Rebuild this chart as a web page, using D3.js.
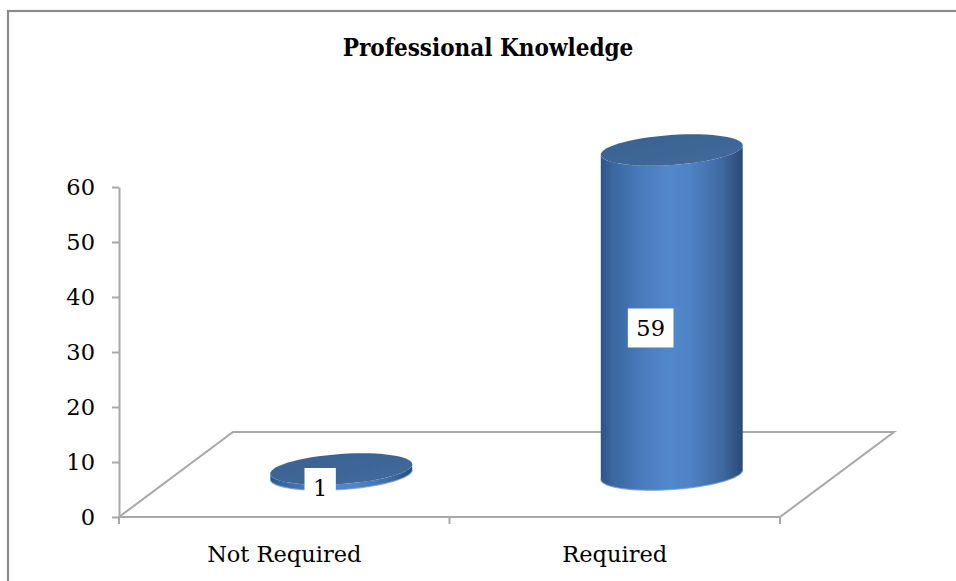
<!DOCTYPE html>
<html>
<head>
<meta charset="utf-8">
<script src="https://cdn.jsdelivr.net/npm/d3@7"></script>
<style>
  html, body { margin: 0; padding: 0; background: #fff; }
  svg { display: block; }
  text { font-family: "DejaVu Serif", "Liberation Serif", serif; fill: #000; }
</style>
</head>
<body>
<svg id="chart" width="956" height="581"></svg>
<script>
// Survey result: is professional knowledge required?
const title = "Professional Knowledge";
const categories = ["Not Required", "Required"];
const values = [1, 59];
const yTicks = [0, 10, 20, 30, 40, 50, 60];

const svg = d3.select("#chart");
const W = 956, H = 581;

// outer chart frame
svg.append("rect")
  .attr("x", 8).attr("y", 11)
  .attr("width", W + 10).attr("height", H + 10)
  .attr("fill", "none").attr("stroke", "#8a8a8a").attr("stroke-width", 2.2);

svg.append("text")
  .attr("x", 488).attr("y", 56)
  .attr("text-anchor", "middle")
  .attr("font-size", 24).attr("font-weight", "bold")
  .style("font-stretch", "condensed")
  .text(title);

// plot geometry
const y = d3.scaleLinear().domain([0, 60]).range([517, 187]);
const x = d3.scaleBand().domain(categories).range([119, 780]);
const depth = { x: 114, y: -85 };           // oblique floor depth vector
const bw = x.bandwidth();
const radU = { x: bw * 0.205, y: 0 };       // circle radius along the category axis
const radV = { x: depth.x * 0.185, y: depth.y * 0.185 }; // radius along depth

const gray = "#a8a8a8";

// floor
const fl = [
  [x.range()[0], y(0)],
  [x.range()[0] + depth.x, y(0) + depth.y],
  [x.range()[1] + depth.x, y(0) + depth.y],
  [x.range()[1], y(0)]
];
svg.append("path")
  .attr("d", d3.line()(fl) + "Z")
  .attr("fill", "none").attr("stroke", gray).attr("stroke-width", 2);

// value axis
const yAxis = svg.append("g")
  .attr("transform", `translate(${x.range()[0]},0)`)
  .call(d3.axisLeft(y).tickValues(yTicks).tickSize(7).tickSizeOuter(0).tickPadding(17));
yAxis.select(".domain").attr("stroke", gray).attr("stroke-width", 2);
yAxis.selectAll(".tick line").attr("stroke", gray).attr("stroke-width", 2);
yAxis.selectAll(".tick text")
  .attr("font-size", 22.5).attr("font-family", "DejaVu Serif").attr("fill", "#000");

// category axis: front floor edge with ticks at band boundaries
const xAxis = svg.append("g");
const bounds = categories.map(c => x(c)).concat([x.range()[1]]);
xAxis.selectAll("line.tk").data(bounds).join("line")
  .attr("x1", d => d).attr("x2", d => d)
  .attr("y1", y(0)).attr("y2", y(0) + 7)
  .attr("stroke", gray).attr("stroke-width", 2);
xAxis.selectAll("text").data(categories).join("text")
  .attr("x", d => x(d) + bw / 2).attr("y", 562)
  .attr("text-anchor", "middle").attr("font-size", 22.5)
  .text(d => d);

// gradients
const defs = svg.append("defs");
const sideGrad = defs.append("linearGradient").attr("id", "cylSide")
  .attr("x1", "0%").attr("x2", "100%").attr("y1", "0%").attr("y2", "0%");
[["0%", "#2c5486"], ["8%", "#3a669f"], ["30%", "#4a7cbd"], ["48%", "#5188cc"],
 ["62%", "#4f84c6"], ["85%", "#3f6aa2"], ["100%", "#2a4a74"]]
  .forEach(([o, c]) => sideGrad.append("stop").attr("offset", o).attr("stop-color", c));
const capGrad = defs.append("linearGradient").attr("id", "cylTop")
  .attr("x1", "0%").attr("x2", "100%").attr("y1", "0%").attr("y2", "100%");
[["0%", "#3a6190"], ["100%", "#416a9c"]]
  .forEach(([o, c]) => capGrad.append("stop").attr("offset", o).attr("stop-color", c));
defs.append("filter").attr("id", "soft")
  .append("feGaussianBlur").attr("stdDeviation", 0.6);

// point on a circle lying in the floor plane, centred at (cx, cy)
const pt = (cx, cy, t) => [
  cx + radU.x * Math.cos(t) + radV.x * Math.sin(t),
  cy + radU.y * Math.cos(t) + radV.y * Math.sin(t)
];
const tRight = Math.atan2(radV.x, radU.x);
const N = 60;
const arc = (cx, cy, t0, t1) => d3.range(N + 1).map(i => pt(cx, cy, t0 + (t1 - t0) * i / N));

const bars = svg.append("g").attr("filter", "url(#soft)");
categories.forEach((c, i) => {
  const cx = x(c) + bw / 2 + depth.x / 2;
  const yb = y(0) + depth.y / 2;
  const yt = y(values[i]) + depth.y / 2;
  // side silhouette: front half of bottom rim + front half of top rim
  const bottomFront = arc(cx, yb, tRight, tRight - Math.PI);
  const topFront = arc(cx, yt, tRight - Math.PI, tRight);
  bars.append("path")
    .attr("d", d3.line()(bottomFront.concat(topFront)) + "Z")
    .attr("fill", "url(#cylSide)");
  bars.append("path")
    .attr("d", d3.line()(bottomFront))
    .attr("fill", "none").attr("stroke", "#6d9bd6").attr("stroke-width", 1.2).attr("opacity", 0.8);
  bars.append("path")
    .attr("d", d3.line()(arc(cx, yt, 0, 2 * Math.PI)) + "Z")
    .attr("fill", "url(#cylTop)");
});

// value labels on the front face, mid height
const labels = svg.append("g");
categories.forEach((c, i) => {
  const cx = x(c) + bw / 2 + depth.x / 2 - radV.x;
  const cy = (y(0) + y(values[i])) / 2 + depth.y / 2 - radV.y;
  const g = labels.append("g");
  const r = g.append("rect").attr("fill", "#fff");
  const t = g.append("text")
    .attr("x", cx).attr("y", cy).attr("dy", "0.36em")
    .attr("text-anchor", "middle").attr("font-size", 22.5)
    .text(values[i]);
  const w = t.node().getComputedTextLength() + 17;
  r.attr("x", cx - w / 2).attr("y", cy - 19.5).attr("width", w).attr("height", 39);
});
</script>
</body>
</html>
